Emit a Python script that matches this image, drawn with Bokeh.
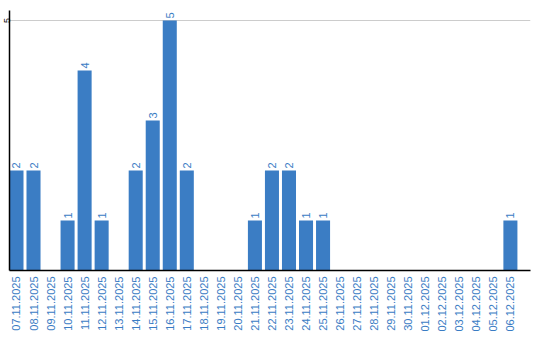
import math
from bokeh.plotting import figure
from bokeh.models import ColumnDataSource, FixedTicker, Range1d
from bokeh.core.properties import value
from bokeh.embed import file_html
from bokeh.resources import INLINE

dates = ["07.11.2025", "08.11.2025", "09.11.2025", "10.11.2025", "11.11.2025",
         "12.11.2025", "13.11.2025", "14.11.2025", "15.11.2025", "16.11.2025",
         "17.11.2025", "18.11.2025", "19.11.2025", "20.11.2025", "21.11.2025",
         "22.11.2025", "23.11.2025", "24.11.2025", "25.11.2025", "26.11.2025",
         "27.11.2025", "28.11.2025", "29.11.2025", "30.11.2025", "01.12.2025",
         "02.12.2025", "03.12.2025", "04.12.2025", "05.12.2025", "06.12.2025"]
counts = [2, 2, 0, 1, 4, 1, 0, 2, 3, 5, 2, 0, 0, 0, 1, 2, 2, 1, 1, 0,
          0, 0, 0, 0, 0, 0, 0, 0, 0, 1]
y_ticks = [5]

BLUE = "#3b7dc4"
LABEL = "#3a7cc4"

xs = [i + 0.41 for i in range(len(dates))]
src = ColumnDataSource(dict(x=xs, top=counts))
lab_idx = [i for i, c in enumerate(counts) if c > 0]
lab = ColumnDataSource(dict(x=[xs[i] for i in lab_idx],
                            y=[counts[i] for i in lab_idx],
                            t=[str(counts[i]) for i in lab_idx]))

p = figure(width=540, height=340, output_backend="svg", toolbar_location=None,
           x_range=Range1d(0, 30.59), y_range=Range1d(0, 5.2),
           min_border_left=0, min_border_right=10, min_border_top=10,
           min_border_bottom=70)
p.outline_line_color = None
p.background_fill_color = "white"
p.border_fill_color = "white"

p.vbar(x="x", top="top", bottom=0, width=0.824, source=src,
       fill_color=BLUE, line_color=None)
p.text(x="x", y="y", text="t", source=lab, angle=math.pi / 2,
       x_offset=0, y_offset=-2, text_align="left", text_baseline="middle",
       text_font=value("Liberation Sans"), text_font_size="11px",
       text_color=LABEL)

p.xaxis.ticker = FixedTicker(ticks=xs)
p.xaxis.major_label_overrides = {x: d for x, d in zip(xs, dates)}
p.xaxis.major_label_orientation = math.pi / 2
p.xaxis.major_label_text_font = "Liberation Sans"
p.xaxis.major_label_text_font_size = "11px"
p.xaxis.major_label_text_color = LABEL
p.xaxis.major_label_standoff = 6
p.xaxis.major_tick_line_color = None
p.xaxis.major_tick_out = 0
p.xaxis.minor_tick_line_color = None
p.xaxis.axis_line_color = "black"
p.xaxis.axis_line_width = 1.5

p.yaxis.ticker = FixedTicker(ticks=y_ticks)
p.yaxis.major_label_orientation = "vertical"
p.yaxis.major_label_text_font = "Liberation Sans"
p.yaxis.major_label_text_font_size = "9px"
p.yaxis.major_label_text_color = "black"
p.yaxis.major_label_standoff = 0
p.yaxis.major_tick_line_color = None
p.yaxis.major_tick_out = 0
p.yaxis.major_tick_in = 0
p.yaxis.minor_tick_line_color = None
p.yaxis.axis_line_color = "black"
p.yaxis.axis_line_width = 1.5

p.xgrid.grid_line_color = None
p.ygrid.ticker = FixedTicker(ticks=y_ticks)
p.ygrid.grid_line_color = "#cccccc"
p.ygrid.grid_line_width = 1

open("out.html", "w").write(file_html(p, INLINE))
